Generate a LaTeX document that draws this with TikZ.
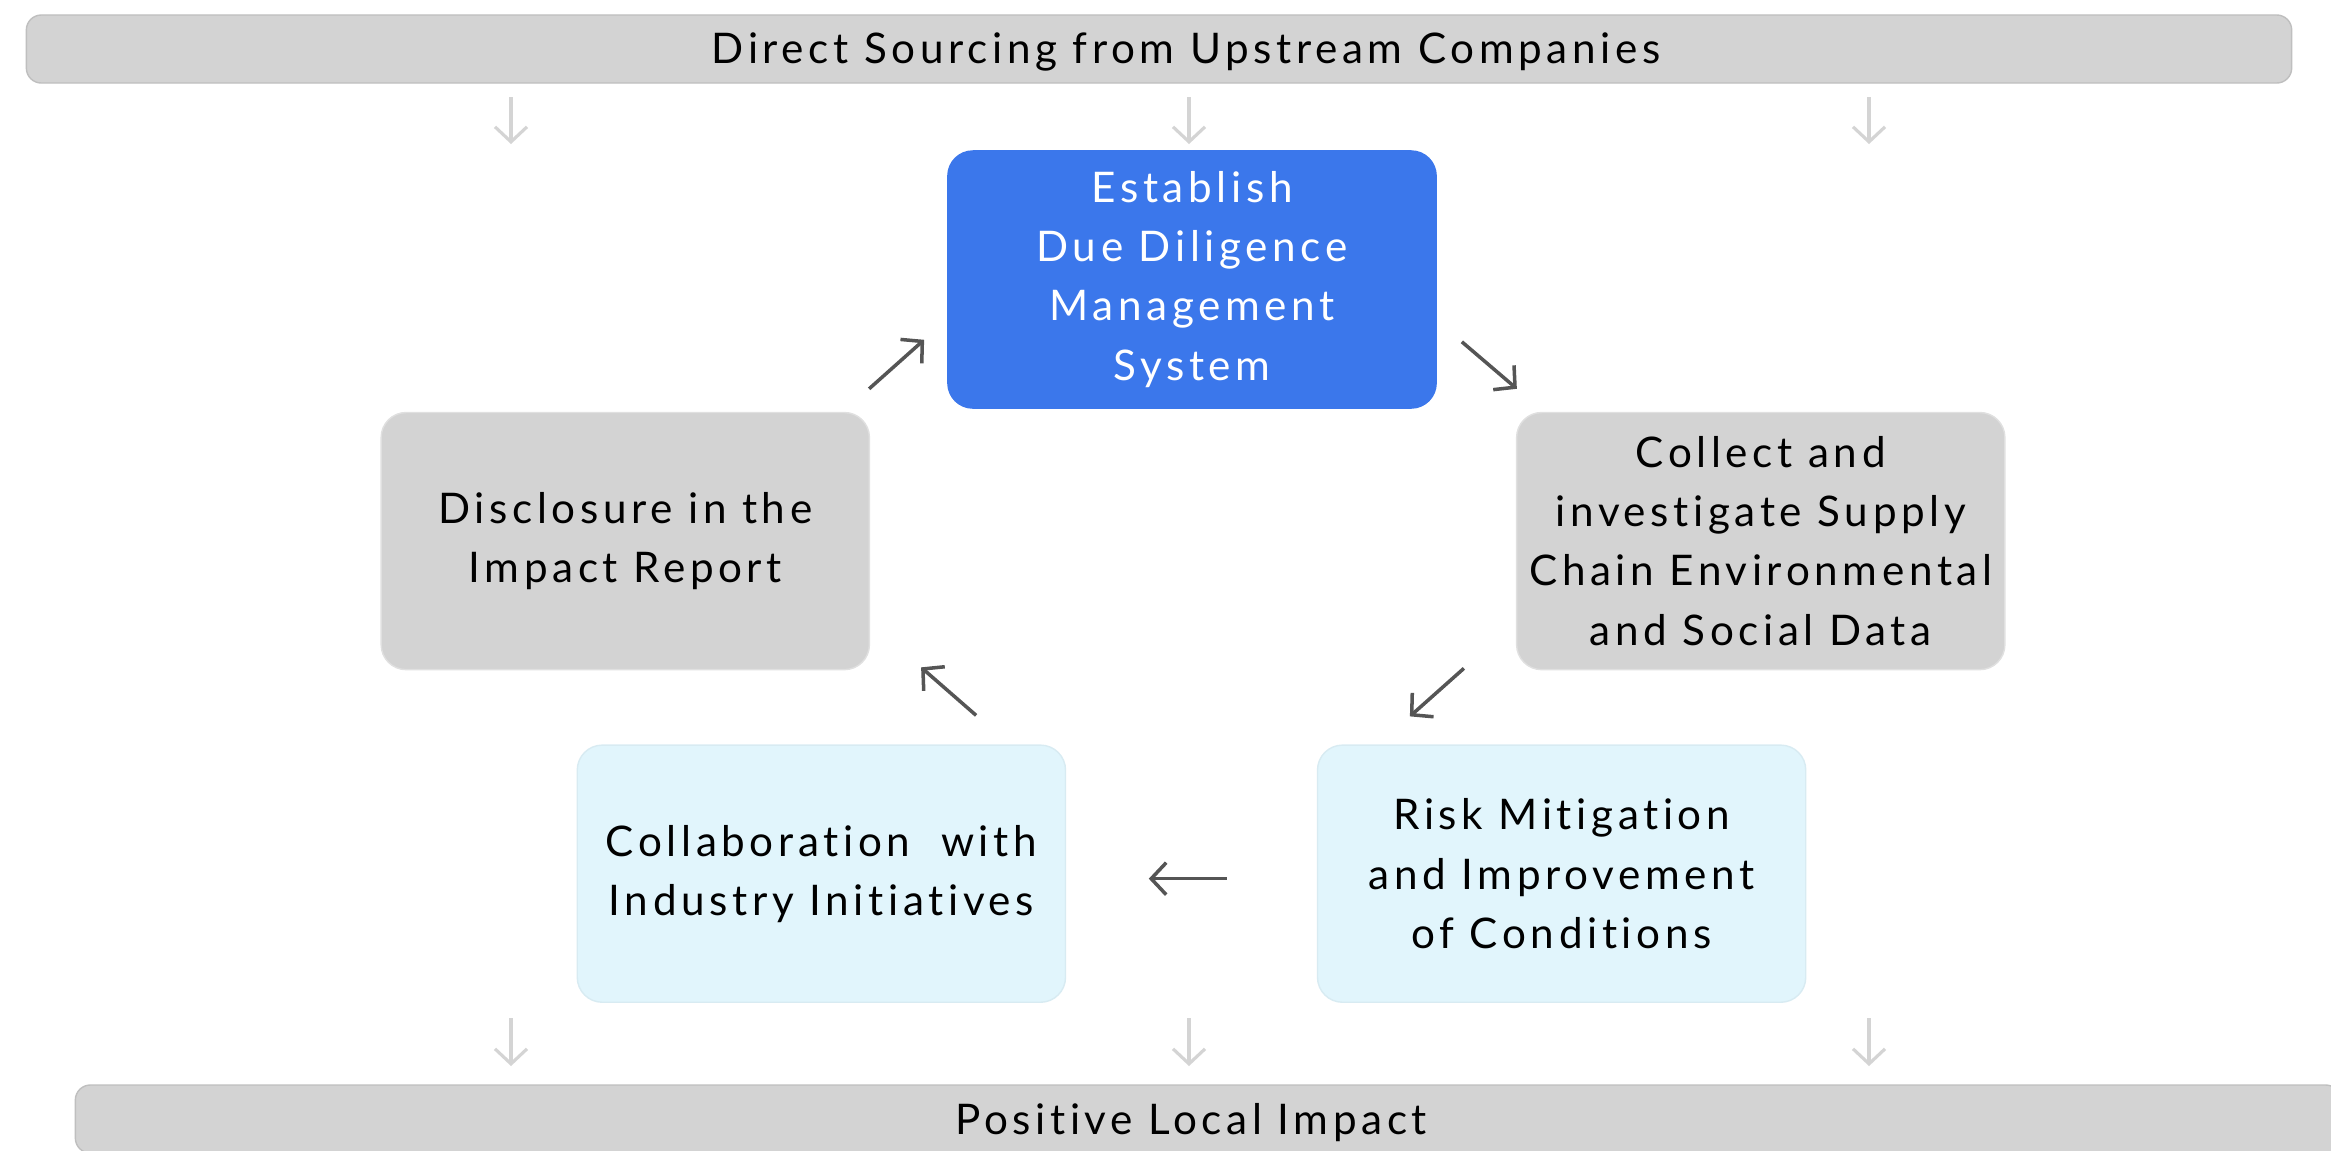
\documentclass[tikz,border=0pt]{standalone}
\usepackage{fontspec}
\setmainfont{Lato}[LetterSpace=11, Ligatures=NoCommon]
\usetikzlibrary{positioning,arrows.meta}

\definecolor{ddblue}{HTML}{3B77EB}
\definecolor{boxgray}{HTML}{D3D3D3}
\definecolor{palecyan}{HTML}{E1F5FC}
\definecolor{arrowdark}{HTML}{555555}
\definecolor{arrowlight}{HTML}{D4D4D4}

\tikzset{
  stagebox/.style={rounded corners=0.25cm, minimum width=4.88cm, minimum height=2.57cm,
    align=center, inner sep=0pt, font=\fontsize{12}{16.8}\selectfont},
  bar/.style={fill=boxgray, draw=black!25, line width=0.4pt, rounded corners=0.15cm,
    minimum width=22.64cm, minimum height=0.68cm, inner sep=0pt},
  bartext/.style={font=\fontsize{12}{16.8}\selectfont, inner sep=0pt},
  cyclearrow/.style={draw=arrowdark, line width=1pt, -{Straight Barb[length=0.15cm, width=0.32cm]}},
  fadearrow/.style={draw=arrowlight, line width=0.9pt, -{Straight Barb[length=0.15cm, width=0.32cm]}}
}

\begin{document}
\begin{tikzpicture}[x=0.01cm, y=-0.01cm]
    \useasboundingbox (0,0) rectangle (2331,1150);

    % source and outcome bars
    \node[bar] (top) at (1159,49) {};
    \node[bartext] (toptext) at (1186,52) {Direct Sourcing from Upstream Companies};
    \node[bar] (bottom) at (1208,1119) {};
    \node[bartext] (bottomtext) at (1191,1123) {Positive Local Impact};

    % the cycle
    \node[stagebox, fill=ddblue, draw=ddblue, text=white] (est) at (1192,279.5)
        {Establish\\Due Diligence\\Management\\System};
    \node[stagebox, fill=boxgray, draw=black!12] (collect) [below right=0.03cm and 0.79cm of est.south east]
        {Collect and\\investigate Supply\\Chain Environmental\\and Social Data};
    \node[stagebox, fill=palecyan, draw=palecyan!96!black] (risk) [below left=0.74cm and 1.99cm of collect.south east]
        {Risk Mitigation\\and Improvement\\of Conditions};
    \node[stagebox, fill=boxgray, draw=black!12] (disc) [below left=0.03cm and 0.77cm of est.south west]
        {Disclosure in the\\Impact Report};
    \node[stagebox, fill=palecyan, draw=palecyan!96!black] (collab) [below right=0.74cm and 1.96cm of disc.south west]
        {Collaboration\ \ with\\Industry Initiatives};

    \draw[cyclearrow] ([shift={(25,-67)}]est.south east) -- ([shift={(80,-20)}]est.south east);
    \draw[cyclearrow] ([shift={(-52,-2)}]collect.south west) -- ([shift={(-106,46)}]collect.south west);
    \draw[cyclearrow] ([shift={(-90,5)}]risk.west) -- ([shift={(-168,5)}]risk.west);
    \draw[cyclearrow] ([shift={(106,45)}]disc.south east) -- ([shift={(51,-3)}]disc.south east);
    \draw[cyclearrow] ([shift={(-1,-23)}]disc.north east) -- ([shift={(54,-72)}]disc.north east);

    % faint flow arrows
    \foreach \x [count=\i] in {511,1189,1869} {
        \coordinate (in\i) at (\x,97);
        \coordinate (out\i) at (\x,1018);
        \draw[fadearrow] (in\i) -- ++(0,47);
        \draw[fadearrow] (out\i) -- ++(0,48);
    }
\end{tikzpicture}
\end{document}
